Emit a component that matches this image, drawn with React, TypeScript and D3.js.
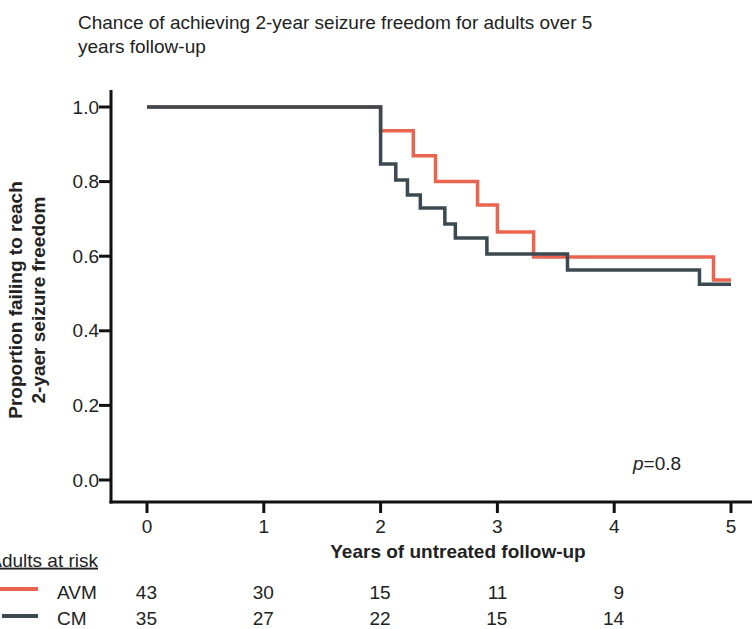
import React from "react";
import * as d3 from "d3";

const title = ["Chance of achieving 2-year seizure freedom for adults over 5", "years follow-up"];
const yTicks = [0, 0.2, 0.4, 0.6, 0.8, 1.0];
const xTicks = [0, 1, 2, 3, 4, 5];

// Step curves: [time (years), proportion] — value holds from this time onward
const avmTimes = [0, 2.0, 2.28, 2.47, 2.83, 3.0, 3.31, 4.85, 5.0];
const avmValues = [1.0, 0.936, 0.869, 0.80, 0.737, 0.665, 0.598, 0.536, 0.536];
const cmTimes = [0, 2.0, 2.13, 2.23, 2.34, 2.55, 2.64, 2.91, 3.6, 4.73, 5.0];
const cmValues = [1.0, 0.847, 0.804, 0.764, 0.729, 0.686, 0.649, 0.606, 0.563, 0.525, 0.525];

const riskTimes = [0, 1, 2, 3, 4];
const avmRisk = [43, 30, 15, 11, 9];
const cmRisk = [35, 27, 22, 15, 14];

const RED = "#e9654f";
const DARK = "#3b4950";
const FONT = "'Liberation Sans', Arial, Helvetica, sans-serif";
const FS = 19;

export default function App() {
  const W = 752, H = 629;
  const x = d3.scaleLinear().domain([0, 5]).range([147, 731]);
  const y = d3.scaleLinear().domain([0, 1]).range([480, 107]);
  const line = d3.line<[number, number]>().x(d => x(d[0])).y(d => y(d[1])).curve(d3.curveStepAfter);
  const avm = avmTimes.map((t, i) => [t, avmValues[i]] as [number, number]);
  const cm = cmTimes.map((t, i) => [t, cmValues[i]] as [number, number]);
  const axisX = 111, axisY = 502;
  return (
    <svg width={W} height={H} style={{ position: "absolute", left: 0, top: 0, fontFamily: FONT }}>
      <rect width={W} height={H} fill="#fff" />
      {title.map((t, i) => (
        <text key={i} x={78} y={29 + i * 24} fontSize={FS} fill="#222">{t}</text>
      ))}
      {/* axes */}
      <line x1={axisX} x2={axisX} y1={90} y2={axisY + 1.5} stroke="#111" strokeWidth={3} />
      <line x1={axisX - 1.5} x2={W} y1={axisY} y2={axisY} stroke="#111" strokeWidth={3} />
      {yTicks.map(v => (
        <g key={v}>
          <line x1={axisX - 12} x2={axisX} y1={y(v)} y2={y(v)} stroke="#111" strokeWidth={3} />
          <text x={axisX - 12} y={y(v)} dy="0.35em" textAnchor="end" fontSize={FS} fill="#222">{v.toFixed(1)}</text>
        </g>
      ))}
      {xTicks.map(t => (
        <g key={t}>
          <line x1={x(t)} x2={x(t)} y1={axisY} y2={axisY + 11} stroke="#111" strokeWidth={3} />
          <text x={x(t)} y={526} dy="0.35em" textAnchor="middle" fontSize={FS} fill="#222">{t}</text>
        </g>
      ))}
      <text x={458} y={551} dy="0.35em" textAnchor="middle" fontSize={FS} fontWeight="bold" fill="#222">Years of untreated follow-up</text>
      <g transform="translate(0,300) rotate(-90)">
        <text x={0} y={22} textAnchor="middle" fontSize={FS} fontWeight="bold" fill="#222">Proportion failing to reach</text>
        <text x={0} y={45} textAnchor="middle" fontSize={FS} fontWeight="bold" fill="#222">2-yaer seizure freedom</text>
      </g>
      {/* curves */}
      <path d={line(avm) || ""} fill="none" stroke={RED} strokeWidth={3.5} />
      <path d={line(cm) || ""} fill="none" stroke={DARK} strokeWidth={3.5} />
      <text x={633} y={463} dy="0.35em" fontSize={FS} fill="#222"><tspan fontStyle="italic">p</tspan>=0.8</text>
      {/* risk table */}
      <text x={98} y={560} dy="0.35em" textAnchor="end" fontSize={FS} fill="#222" textDecoration="underline">Adults at risk</text>
      <line x1={0} x2={38} y1={589} y2={589} stroke={RED} strokeWidth={4} />
      <line x1={2} x2={38} y1={616} y2={616} stroke={DARK} strokeWidth={4} />
      <text x={57} y={592} dy="0.35em" fontSize={FS} fill="#222">AVM</text>
      <text x={57} y={618} dy="0.35em" fontSize={FS} fill="#222">CM</text>
      {riskTimes.map((t, i) => (
        <g key={t}>
          <text x={x(t) + 10} y={592} dy="0.35em" textAnchor="end" fontSize={FS} fill="#222">{avmRisk[i]}</text>
          <text x={x(t) + 10} y={618} dy="0.35em" textAnchor="end" fontSize={FS} fill="#222">{cmRisk[i]}</text>
        </g>
      ))}
    </svg>
  );
}
